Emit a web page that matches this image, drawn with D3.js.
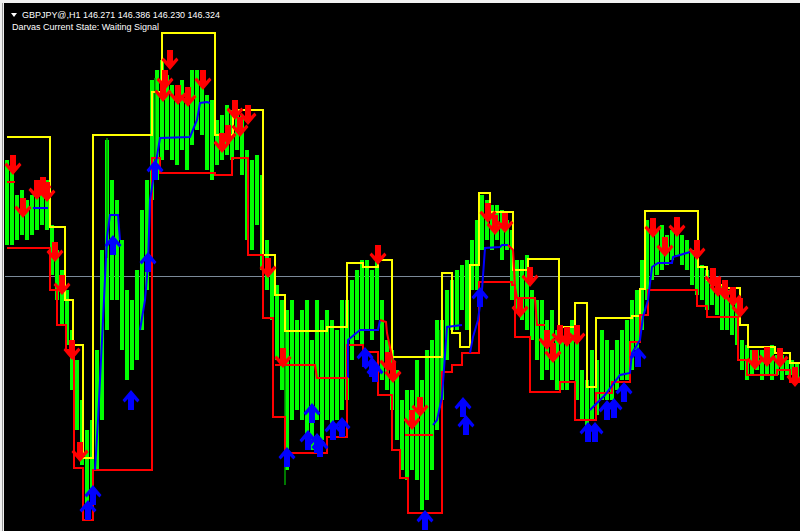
<!DOCTYPE html>
<html>
<head>
<meta charset="utf-8">
<script src="https://cdn.jsdelivr.net/npm/d3@7"></script>
<style>
  body { margin: 0; background: #f0f0f0; }
  svg { display: block; }
</style>
</head>
<body>
<div id="chart"></div>
<script>
// GBPJPY H1 with Darvas box indicator
let symbolInfo = "GBPJPY@,H1  146.271 146.386 146.230 146.324"
let stateInfo = "Darvas Current State: Waiting Signal"
let lastPrice = 146.324

// price columns (one every 5 bars)
let bars = d3.range(7, 798, 5)
let greenHigh = [
    147.48, 147.38, 147.13, 147.18, 147.08, 147.13, 147.23, 147.18, 147.28, 146.83,
    146.58, 146.38, 146.18, 145.78, 145.48, 145.08, 144.78, 144.88, 145.58, 146.58,
    147.68, 147.28, 147.08, 146.68, 146.18, 146.08, 146.38, 146.98, 147.28, 148.28,
    148.38, 148.48, 148.33, 148.23, 148.18, 148.28, 148.18, 148.38, 148.38, 148.28,
    148.13, 148.08, 147.88, 147.93, 148.03, 147.98, 147.98, 147.93, 147.58, 147.48,
    147.53, 147.33, 146.68, 146.38, 146.23, 146.08, 145.98, 146.08, 145.88, 145.98,
    146.08, 145.68, 146.08, 145.88, 145.98, 145.88, 145.78, 146.08, 146.08, 146.28,
    146.38, 146.48, 146.48, 146.38, 146.48, 146.08, 145.68, 145.58, 145.38, 145.08,
    145.18, 145.18, 145.48, 145.28, 145.58, 145.68, 145.88, 145.88, 146.18, 146.28,
    146.38, 146.43, 146.48, 146.68, 146.88, 147.13, 147.08, 147.03, 147.03, 146.98,
    146.88, 146.78, 146.48, 146.48, 146.53, 146.18, 146.08, 146.08, 145.88, 145.98,
    145.78, 145.68, 145.78, 145.88, 145.78, 145.38, 145.28, 145.58, 145.48, 145.78,
    145.68, 145.58, 145.68, 145.78, 145.88, 146.08, 146.18, 146.48, 146.88, 146.88,
    146.78, 146.83, 146.73, 146.78, 146.88, 146.73, 146.68, 146.58, 146.53, 146.43,
    146.38, 146.33, 146.28, 146.23, 146.18, 146.13, 146.08, 145.68, 145.63, 145.58,
    145.58, 145.58, 145.58, 145.63, 145.53, 145.53, 145.48, 145.48, 145.46
]
let greenLow = [
    146.63, 146.63, 146.68, 146.73, 146.68, 146.73, 146.78, 146.83, 146.78, 146.33,
    146.08, 145.83, 145.63, 145.18, 144.78, 144.43, 143.93, 144.08, 144.38, 144.88,
    145.78, 146.08, 146.08, 145.58, 145.28, 145.38, 145.48, 145.78, 146.18, 147.08,
    147.28, 147.48, 147.58, 147.48, 147.43, 147.58, 147.38, 147.63, 147.78, 147.73,
    147.38, 147.28, 147.43, 147.48, 147.53, 147.48, 147.58, 147.33, 146.68, 146.58,
    146.83, 146.38, 146.18, 145.88, 145.48, 145.18, 144.38, 144.88, 144.98, 144.88,
    144.68, 144.58, 144.88, 144.68, 144.88, 144.78, 144.88, 144.98, 145.08, 145.48,
    145.68, 145.63, 145.78, 145.68, 145.88, 145.28, 145.18, 144.98, 144.68, 144.38,
    144.28, 144.38, 144.28, 143.98, 144.08, 144.38, 144.78, 145.08, 145.48, 145.78,
    145.78, 145.98, 145.78, 146.18, 146.18, 146.58, 146.68, 146.58, 146.68, 146.48,
    146.58, 146.08, 145.98, 145.88, 145.78, 145.68, 145.48, 145.28, 145.38, 145.28,
    145.18, 145.18, 145.18, 145.28, 145.08, 144.88, 144.78, 144.88, 144.93, 145.08,
    145.08, 145.08, 145.18, 145.28, 145.28, 145.38, 145.58, 145.78, 146.08, 146.28,
    146.33, 146.38, 146.43, 146.48, 146.53, 146.43, 146.38, 146.23, 146.13, 146.08,
    145.98, 146.03, 145.93, 145.78, 145.78, 145.73, 145.63, 145.38, 145.28, 145.33,
    145.38, 145.28, 145.33, 145.28, 145.33, 145.28, 145.33, 145.33, 145.28
]
// a few long dark spikes [bar, high, low]
let darkSpikes = [[107, 147.70, 146.50], [155, 148.30, 147.33], [285, 145.90, 144.23], [440, 145.78, 145.00]]

// Darvas box top (yellow) and bottom (red), step changes [bar, price]
let boxTop = [
    [7, 147.71], [50, 146.81], [65, 146.08], [73, 145.63], [83, 144.50], [93, 147.73], [152, 148.16],
    [162, 148.75], [215, 147.73], [233, 147.98], [263, 146.53], [275, 146.13], [285, 145.77],
    [327, 145.81], [347, 146.45], [363, 146.41], [378, 146.48], [392, 145.51], [442, 146.35],
    [452, 145.75], [460, 145.61], [470, 146.43], [479, 147.15], [490, 146.96], [513, 146.38],
    [528, 146.49], [559, 145.81], [575, 146.05], [587, 145.21], [596, 145.90], [632, 145.92],
    [640, 146.19], [645, 146.97], [698, 146.41], [707, 146.28], [715, 146.23], [725, 146.20],
    [740, 145.83], [748, 145.61], [775, 145.55], [790, 145.45], [800, 145.45]
]
let boxBottom = [
    [7, 146.60], [50, 146.18], [57, 145.83], [66, 145.58], [74, 144.40], [83, 143.88], [93, 144.38],
    [152, 147.50], [160, 147.35], [215, 147.33], [232, 147.50], [248, 146.53], [263, 145.90],
    [273, 144.91], [285, 144.55], [327, 144.71], [347, 145.63], [363, 145.56], [378, 145.13],
    [392, 144.58], [400, 144.30], [408, 143.95], [442, 145.36], [452, 145.43], [462, 145.55],
    [479, 146.26], [512, 146.23], [515, 145.71], [530, 145.16], [560, 145.26], [575, 144.88],
    [596, 145.15], [612, 145.26], [630, 145.66], [640, 145.93], [648, 146.18], [697, 146.02],
    [707, 145.91], [738, 145.48], [747, 145.33], [777, 145.38], [790, 145.26], [800, 145.26]
]

// trailing line, blue while long, red while short
let blueTrail = [
    [[33, 147.00], [48, 147.00]],
    [[95, 144.38], [98, 144.88], [103, 145.88], [107, 146.71], [110, 146.93], [118, 146.93], [120, 146.68]],
    [[140, 145.78], [145, 146.08], [148, 146.43], [150, 147.08], [155, 147.40], [160, 147.70], [190, 147.71],
     [197, 147.88], [200, 148.05], [207, 148.06], [210, 148.05]],
    [[348, 145.30], [348, 145.68], [360, 145.78], [378, 145.78], [380, 145.88]],
    [[433, 144.83], [437, 144.88], [442, 145.11], [447, 145.81], [462, 145.83]],
    [[470, 145.55], [473, 145.71], [478, 145.88], [482, 146.18], [485, 146.60], [500, 146.61], [502, 146.63], [508, 146.63]],
    [[590, 144.98], [605, 145.13], [620, 145.33], [630, 145.35], [632, 145.55], [640, 145.68], [643, 145.91],
     [648, 146.08], [652, 146.41], [658, 146.45], [672, 146.45], [673, 146.51], [680, 146.53], [690, 146.56]]
]
let redTrail = [
    [[7, 147.26], [15, 147.26]],
    [[275, 145.43], [315, 145.43], [317, 145.30], [348, 145.30]],
    [[380, 145.88], [386, 145.86], [387, 145.75], [393, 145.46]],
    [[405, 144.73], [433, 144.73]],
    [[508, 146.63], [513, 146.58], [515, 146.21], [517, 146.10], [535, 146.10], [537, 145.83], [545, 145.83]]
]

// sell signals (red down arrows) and buy signals (blue up arrows) [bar, price]
let sellArrows = [
    [13, 147.43], [23, 147.00], [37, 147.18], [43, 147.21], [47, 147.16], [55, 146.56], [62, 146.23], [72, 145.58], [80, 144.56],
    [170, 148.48], [165, 148.28], [163, 148.16], [178, 148.13], [188, 148.11], [203, 148.28],
    [235, 147.98], [240, 147.81], [248, 147.93], [222, 147.65], [228, 147.73],
    [268, 146.40], [283, 145.50], [378, 146.53], [388, 145.46], [393, 145.35], [420, 145.01], [412, 144.88],
    [488, 146.95], [495, 146.83], [505, 146.85], [530, 146.31], [520, 146.00], [547, 145.68], [553, 145.55],
    [567, 145.71], [577, 145.73], [560, 145.73],
    [653, 146.80], [677, 146.81], [665, 146.61], [697, 146.58], [713, 146.30], [718, 146.21], [725, 146.18],
    [733, 146.11], [740, 146.00], [755, 145.48], [767, 145.51], [780, 145.50], [795, 145.31]
]
let buyArrows = [
    [113, 146.63], [131, 145.08], [148, 146.46], [155, 147.38], [88, 143.98], [93, 144.13],
    [312, 144.95], [287, 144.51], [308, 144.68], [317, 144.65], [320, 144.61], [333, 144.78], [342, 144.81],
    [365, 145.51], [372, 145.41], [375, 145.36], [425, 143.88],
    [480, 146.11], [463, 145.01], [466, 144.83],
    [588, 144.76], [595, 144.76], [607, 144.98], [614, 145.00], [624, 145.16], [638, 145.51]
]

let width = 800
let height = 531

let svg = d3.select("#chart")
    .append("svg")
    .attr("width", width)
    .attr("height", height)

svg.append("rect").attr("x", 4).attr("y", 3).attr("width", width - 4).attr("height", height - 3).attr("fill", "#000000")
svg.append("line").attr("x1", 2.5).attr("x2", 2.5).attr("y1", 3).attr("y2", height).attr("stroke", "#9a9a9a").attr("stroke-width", 1)

let x = d3.scaleLinear().domain([0, 800]).range([0, 800])
let y = d3.scaleLinear().domain([149.04, 143.77]).range([4, 531])

// current price line
svg.append("line")
    .attr("x1", 5).attr("x2", width)
    .attr("y1", Math.round(y(lastPrice)) + 0.5).attr("y2", Math.round(y(lastPrice)) + 0.5)
    .attr("stroke", "#7b8a99").attr("stroke-width", 1)

// price columns
svg.append("g")
    .selectAll("rect")
    .data(bars)
    .enter()
    .append("rect")
    .attr("x", d => x(d) - 2)
    .attr("width", 4)
    .attr("y", (d, i) => y(greenHigh[i]))
    .attr("height", (d, i) => y(greenLow[i]) - y(greenHigh[i]))
    .attr("fill", "#00ff00")

svg.append("g")
    .selectAll("line")
    .data(darkSpikes)
    .enter()
    .append("line")
    .attr("x1", d => x(d[0])).attr("x2", d => x(d[0]))
    .attr("y1", d => y(d[1])).attr("y2", d => y(d[2]))
    .attr("stroke", "#00a000").attr("stroke-width", 1.5)

let stepLine = d3.line().x(d => x(d[0])).y(d => y(d[1])).curve(d3.curveStepAfter)
let plainLine = d3.line().x(d => x(d[0])).y(d => y(d[1]))

svg.append("path").attr("d", stepLine(boxTop)).attr("fill", "none").attr("stroke", "#ffff00").attr("stroke-width", 2)
svg.append("path").attr("d", stepLine(boxBottom)).attr("fill", "none").attr("stroke", "#ff0000").attr("stroke-width", 2)

svg.append("g").selectAll("path").data(blueTrail).enter().append("path")
    .attr("d", d => plainLine(d)).attr("fill", "none").attr("stroke", "#0000ff").attr("stroke-width", 2)
svg.append("g").selectAll("path").data(redTrail).enter().append("path")
    .attr("d", d => plainLine(d)).attr("fill", "none").attr("stroke", "#ff0000").attr("stroke-width", 2)

// arrow glyph pointing down, centered on 0,0
let downArrow = "M-3,-10 H3 V1 L6.5,-2.5 L8.5,0 L0,10 L-8.5,0 L-6.5,-2.5 L-3,1 Z"
let upArrow = "M-3,10 H3 V-1 L6.5,2.5 L8.5,0 L0,-10 L-8.5,0 L-6.5,2.5 L-3,-1 Z"

svg.append("g").selectAll("path").data(sellArrows).enter().append("path")
    .attr("d", downArrow)
    .attr("transform", d => "translate(" + x(d[0]) + "," + y(d[1]) + ")")
    .attr("fill", "#ff0000")
svg.append("g").selectAll("path").data(buyArrows).enter().append("path")
    .attr("d", upArrow)
    .attr("transform", d => "translate(" + x(d[0]) + "," + y(d[1]) + ")")
    .attr("fill", "#0000ff")

// header
svg.append("path").attr("d", "M11,13 L17,13 L14,17 Z").attr("fill", "#ffffff")
svg.append("text").attr("x", 22).attr("y", 17.5).text(symbolInfo)
    .attr("fill", "#ffffff").style("font-family", "Liberation Sans, Arial, sans-serif").style("font-size", "8.5px")
    .attr("textLength", 198).attr("lengthAdjust", "spacingAndGlyphs")
svg.append("text").attr("x", 12).attr("y", 29.5).text(stateInfo)
    .attr("fill", "#ffffff").style("font-family", "Liberation Sans, Arial, sans-serif").style("font-size", "8.5px")
    .attr("textLength", 147).attr("lengthAdjust", "spacingAndGlyphs")
</script>
</body>
</html>
